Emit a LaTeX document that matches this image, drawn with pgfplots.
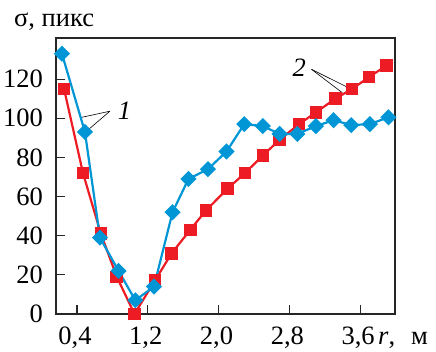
\documentclass[border=0pt]{standalone}
\usepackage{pgfplots}
\pgfplotsset{compat=1.18}
\usepackage{fontspec}
\setmainfont{Liberation Serif}[Scale=2.65]
\definecolor{cred}{RGB}{237,28,36}
\definecolor{cblue}{RGB}{0,150,214}
\begin{document}
\begin{tikzpicture}[x=1pt,y=1pt]
\useasboundingbox (-56,-37) rectangle (380,314);
\begin{axis}[
  at={(0,0)}, anchor=origin,
  scale only axis, width=339pt, height=276pt,
  xmin=0.163, xmax=3.994, ymin=0, ymax=141,
  xtick={0.4,1.2,2.0,2.8,3.6},
  ytick={0,20,40,60,80,100,120},
  tick pos=left, tick align=inside,
  major tick length=9pt,
  axis line style={line width=1.2pt, black!85},
  every tick/.style={line width=1.2pt, black!85},
  /pgf/number format/assume math mode=true,
  xticklabel style={/pgf/number format/.cd, fixed, fixed zerofill, precision=1, use comma, /tikz/.cd, font=\normalfont, inner sep=3pt, yshift=-10pt, xshift=-2pt},
  yticklabel style={font=\normalfont, inner sep=3pt, xshift=-10pt},
  clip=false,
]
\addplot[cred, line width=2.2pt, mark=square*, mark size=5.2pt, mark options={solid}] coordinates {
(0.254,115) (0.468,72) (0.67,41) (0.85,19) (1.05,0) (1.28,17) (1.47,31) (1.68,43) (1.86,53) (2.10,64) (2.30,72) (2.50,81) (2.69,89) (2.91,97) (3.10,103) (3.32,110) (3.51,115) (3.70,121) (3.90,127)
};
\addplot[cblue, line width=2.2pt, mark=square*, mark size=4.6pt, mark options={solid, rotate=45}] coordinates {
(0.23,133) (0.49,93) (0.66,39) (0.87,22) (1.06,7) (1.27,14) (1.48,52) (1.66,69) (1.88,74) (2.09,83) (2.29,97) (2.50,96) (2.69,92) (2.89,92) (3.10,96) (3.30,99) (3.50,96.5) (3.71,97) (3.92,100.5)
};
\draw[black, line width=0.6pt] (axis cs:0.772,103.6) -- (axis cs:0.456,100.5);
\draw[black, line width=0.6pt] (axis cs:0.772,103.6) -- (axis cs:0.524,94);
\node[anchor=west, inner sep=1pt] at (axis cs:0.85,103.6) {\textit{1}};
\draw[black, line width=0.6pt] (axis cs:3.05,125) -- (axis cs:3.45,116);
\draw[black, line width=0.6pt] (axis cs:3.05,125) -- (axis cs:3.40,113);
\node[anchor=east, inner sep=1pt] at (axis cs:3.00,126) {\textit{2}};
\end{axis}
\node[anchor=base west, inner sep=0pt] at (322,-30) {\textit{r}, \hspace{0.35em}м};
\node[anchor=base west, inner sep=0pt] at (-42,287) {σ, пикс};
\end{tikzpicture}
\end{document}
